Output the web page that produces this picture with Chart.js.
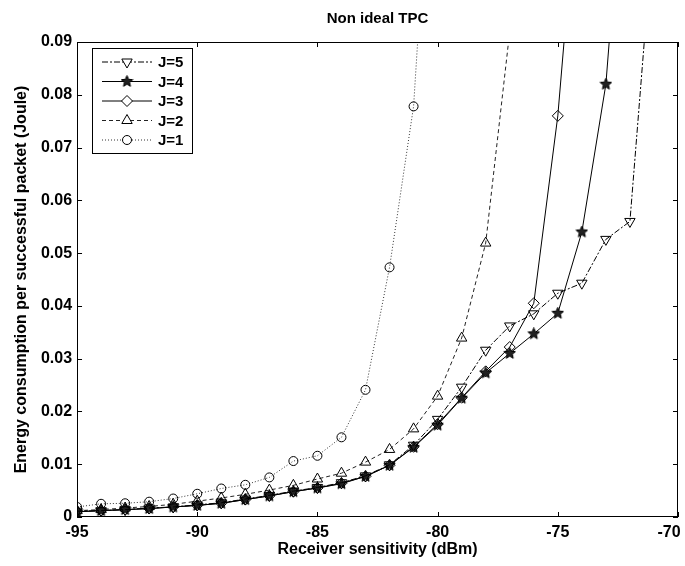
<!DOCTYPE html>
<html>
<head>
<meta charset="utf-8">
<title>Non ideal TPC</title>
<script src="https://cdn.jsdelivr.net/npm/chart.js@4.4.1/dist/chart.umd.min.js"></script>
<style>
  body { margin: 0; background: #fff; }
</style>
</head>
<body>
<canvas id="chart" width="685" height="566"></canvas>
<script>
// receiver sensitivity (dBm), one point per dB
const sensitivity = [-95, -94, -93, -92, -91, -90, -89, -88, -87, -86, -85, -84, -83,
                     -82, -81, -80, -79, -78, -77, -76, -75, -74, -73, -72, -71];

// energy per successful packet (Joule)
const energyJ5 = [0.0011, 0.0012, 0.0014, 0.0017, 0.0019, 0.0023, 0.0027, 0.0034, 0.0041, 0.0049,
                  0.0056, 0.0065, 0.0078, 0.0099, 0.0136, 0.0185, 0.0246, 0.0316, 0.0362, 0.0385,
                  0.0424, 0.0443, 0.0526, 0.0560, 0.113];
const energyJ4 = [0.0010, 0.0012, 0.0014, 0.0016, 0.0019, 0.0022, 0.0026, 0.0033, 0.0040, 0.0048,
                  0.0055, 0.0063, 0.0077, 0.0098, 0.0132, 0.0174, 0.0225, 0.0273, 0.0310, 0.0347,
                  0.0386, 0.0540, 0.0820, 0.14];
const energyJ3 = [0.0010, 0.0012, 0.0014, 0.0016, 0.0019, 0.0022, 0.0026, 0.0033, 0.0040, 0.0048,
                  0.0055, 0.0064, 0.0077, 0.0098, 0.0133, 0.0176, 0.0226, 0.0276, 0.0322, 0.0405,
                  0.0760, 0.13];
const energyJ2 = [0.0012, 0.0014, 0.0017, 0.0020, 0.0024, 0.0030, 0.0036, 0.0043, 0.0051, 0.0060,
                  0.0072, 0.0083, 0.0104, 0.0128, 0.0167, 0.0229, 0.0339, 0.0519, 0.092];
const energyJ1 = [0.0019, 0.0025, 0.0026, 0.0029, 0.0035, 0.0044, 0.0054, 0.0061, 0.0075, 0.0106,
                  0.0116, 0.0151, 0.0241, 0.0473, 0.0778, 0.15];

const seriesLabels = ['J=5', 'J=4', 'J=3', 'J=2', 'J=1'];
const xTicks = [-95, -90, -85, -80, -75, -70];
const chartTitle = 'Non ideal TPC';

Chart.defaults.font.family = '"Liberation Sans", Arial, sans-serif';
Chart.defaults.color = '#000';

// filled five point star for J=4
function makeStar(size) {
  const c = document.createElement('canvas');
  c.width = size; c.height = size;
  const g = c.getContext('2d');
  const cx = size / 2, cy = size / 2, ro = size / 2 - 0.5, ri = ro * 0.45;
  g.beginPath();
  for (let i = 0; i < 10; i++) {
    const r = i % 2 ? ri : ro;
    const a = -Math.PI / 2 + i * Math.PI / 5;
    g.lineTo(cx + r * Math.cos(a), cy + r * Math.sin(a));
  }
  g.closePath();
  g.fillStyle = '#222';
  g.fill();
  g.strokeStyle = '#000';
  g.lineWidth = 1;
  g.stroke();
  return c;
}
const star = makeStar(13);

function pts(values) {
  return values.map((v, i) => ({x: sensitivity[i], y: v}));
}

const styles = [
  {pointStyle: 'triangle', rotation: 180, radius: 6, dash: [6, 2, 2, 2], color: '#000'},
  {pointStyle: star, rotation: 0, radius: 6, dash: [], color: '#000'},
  {pointStyle: 'rectRot', rotation: 0, radius: 5.5, dash: [], color: '#000'},
  {pointStyle: 'triangle', rotation: 0, radius: 6, dash: [4, 3], color: '#222'},
  {pointStyle: 'circle', rotation: 0, radius: 4.5, dash: [1, 2], color: '#333'}
];
const allValues = [energyJ5, energyJ4, energyJ3, energyJ2, energyJ1];

const datasets = allValues.map((vals, k) => ({
  label: seriesLabels[k],
  data: pts(vals),
  borderColor: styles[k].color,
  borderWidth: 1,
  borderDash: styles[k].dash,
  backgroundColor: 'rgba(0,0,0,0)',
  pointStyle: styles[k].pointStyle,
  pointRotation: styles[k].rotation,
  pointRadius: styles[k].radius,
  pointBorderColor: '#000',
  pointBorderWidth: 1,
  pointBackgroundColor: 'rgba(0,0,0,0)',
  tension: 0
}));

// box around the axes with MATLAB style inward ticks, title over the axes
const frame = {
  id: 'frame',
  afterDatasetsDraw(chart) {
    const {ctx, chartArea: a, scales: {x, y}} = chart;
    ctx.save();
    ctx.strokeStyle = '#000';
    ctx.lineWidth = 1;
    ctx.strokeRect(Math.round(a.left) + 0.5, Math.round(a.top) + 0.5,
                   Math.round(a.width) - 1, Math.round(a.height) - 1);
    ctx.beginPath();
    x.ticks.forEach(t => {
      const px = Math.round(x.getPixelForValue(t.value)) + 0.5;
      ctx.moveTo(px, a.bottom); ctx.lineTo(px, a.bottom - 5);
      ctx.moveTo(px, a.top); ctx.lineTo(px, a.top + 5);
    });
    y.ticks.forEach(t => {
      const py = Math.round(y.getPixelForValue(t.value)) + 0.5;
      ctx.moveTo(a.left, py); ctx.lineTo(a.left + 5, py);
      ctx.moveTo(a.right, py); ctx.lineTo(a.right - 5, py);
    });
    ctx.stroke();

    ctx.fillStyle = '#000';
    ctx.font = 'bold 15px "Liberation Sans", Arial, sans-serif';
    ctx.textAlign = 'center';
    ctx.textBaseline = 'middle';
    ctx.fillText(chartTitle, (a.left + a.right) / 2, 19);
    ctx.restore();
  }
};

// legend box in the upper left corner, line sample with marker in the middle
const boxLegend = {
  id: 'boxLegend',
  afterDraw(chart) {
    const {ctx} = chart;
    const left = 92, top = 48, w = 100, h = 105, rowH = 19.5;
    ctx.save();
    ctx.fillStyle = '#fff';
    ctx.fillRect(left, top, w, h);
    ctx.strokeStyle = '#000';
    ctx.lineWidth = 1;
    ctx.strokeRect(left + 0.5, top + 0.5, w, h);
    chart.data.datasets.forEach((ds, i) => {
      const yy = top + 14 + i * rowH;
      ctx.beginPath();
      ctx.setLineDash(ds.borderDash);
      ctx.strokeStyle = ds.borderColor;
      ctx.moveTo(left + 10, yy);
      ctx.lineTo(left + 60, yy);
      ctx.stroke();
      ctx.setLineDash([]);
      ctx.strokeStyle = '#000';
      ctx.fillStyle = '#fff';
      Chart.helpers.drawPoint(ctx, {
        pointStyle: ds.pointStyle,
        rotation: ds.pointRotation,
        radius: ds.pointRadius,
        borderWidth: 1
      }, left + 35, yy);
      ctx.fillStyle = '#000';
      ctx.font = 'bold 15px "Liberation Sans", Arial, sans-serif';
      ctx.textBaseline = 'middle';
      ctx.fillText(ds.label, left + 66, yy + 1);
    });
    ctx.restore();
  }
};

new Chart(document.getElementById('chart'), {
  type: 'line',
  data: {datasets},
  options: {
    responsive: false,
    animation: false,
    layout: {padding: {left: 8.4, right: 4, top: 42, bottom: 0}},
    plugins: {
      legend: {display: false},
      tooltip: {enabled: false},
      title: {display: false}
    },
    scales: {
      x: {
        type: 'linear',
        min: -95,
        max: -70,
        afterBuildTicks: s => { s.ticks = xTicks.map(v => ({value: v})); },
        afterFit: s => { s.paddingRight = 0; },
        grid: {display: false, drawTicks: false},
        border: {display: false},
        ticks: {
          padding: 6.4,
          font: {size: 16, weight: 'bold'},
          maxRotation: 0,
          callback: v => v === -70 ? '-70\u2007\u2007' : String(v)
        },
        title: {
          display: true,
          text: 'Receiver sensitivity (dBm)',
          font: {size: 16, weight: 'bold'},
          padding: {top: -8.6, bottom: 6.4}
        }
      },
      y: {
        min: 0,
        max: 0.09,
        grid: {display: false, drawTicks: false},
        border: {display: false},
        ticks: {
          stepSize: 0.01,
          padding: 5,
          font: {size: 16, weight: 'bold'},
          callback: v => Math.abs(v) < 1e-9 ? '0' : v.toFixed(2)
        },
        title: {
          display: true,
          text: 'Energy consumption per successful packet (Joule)',
          font: {size: 16, weight: 'bold'},
          padding: {top: 4, bottom: 4.3}
        }
      }
    }
  },
  plugins: [frame, boxLegend]
});
</script>
</body>
</html>
